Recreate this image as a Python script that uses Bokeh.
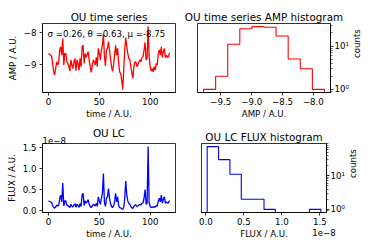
import math
import numpy as np
from bokeh.plotting import figure
from bokeh.layouts import column, row
from bokeh.models import (Range1d, FixedTicker, CustomJSTickFormatter, Label, Title,
                          LinearAxis)
from bokeh.embed import file_html
from bokeh.resources import INLINE

# ---------------- data ----------------
time = list(range(120))
amp = [
    -8.66, -8.69, -8.71, -8.74, -8.97, -9.22, -9.33, -9.13, -8.92, -9.02,
    -8.92, -8.55, -8.45, -8.71, -8.19, -9.02, -8.66, -8.66, -8.92, -8.97,
    -9.07, -9.21, -8.86, -9.03, -9.13, -8.92, -8.81, -9.20, -8.86, -8.97,
    -9.18, -8.81, -9.07, -8.45, -8.40, -8.97, -8.66, -8.78, -8.71, -8.60,
    -8.86, -9.07, -9.25, -9.04, -8.86, -8.92, -9.02, -8.78, -9.07, -8.50,
    -8.66, -8.86, -8.55, -8.40, -8.06, -8.76, -9.05, -8.55, -8.50, -8.29,
    -8.55, -8.81, -9.07, -9.22, -9.01, -8.71, -8.40, -8.71, -8.50, -8.97,
    -9.24, -9.28, -9.49, -9.78, -9.18, -8.55, -8.16, -8.45, -8.66, -8.81,
    -8.86, -9.07, -9.28, -9.44, -9.07, -8.92, -8.92, -9.07, -9.01, -8.92,
    -8.86, -8.92, -8.78, -8.76, -8.55, -8.31, -8.86, -8.81, -7.82, -8.76,
    -9.07, -9.21, -9.13, -9.23, -9.07, -9.18, -8.97, -9.02, -8.66, -8.55,
    -8.71, -8.45, -8.78, -8.60, -8.50, -8.78, -8.71, -8.78, -8.76, -8.64,
]
sigma, theta, mu = 0.26, 0.63, -8.75
n_bins = 10

titles = ["OU time series", "OU time series AMP histogram", "OU LC", "OU LC FLUX histogram"]
time_label = "time / A.U."
amp_label = "AMP / A.U."
flux_label = "FLUX / A.U."
count_label = "counts"
offset_text = "1e\u22128"
amp_ticks = [-9, -8]
time_ticks = [0, 50, 100]
amp_hist_ticks = [-9.5, -9.0, -8.5, -8.0]
flux_ticks = [0.0, 0.5e-8, 1.0e-8, 1.5e-8]
log_ticks = [1, 10, 100]
log_minor = [0.5, 0.6, 0.7, 0.8, 0.9, 2, 3, 4, 5, 6, 7, 8, 9, 20, 30, 40, 50, 60, 70, 80, 90]

RED = "#ff0000"
BLUE = "#0000ff"
FONT = "DejaVu Sans"
TICK_PX = "8.65px"
TITLE_PX = "10.4px"

# ---------------- derived tables ----------------
amp_arr = np.array(amp, dtype=float)
flux = 10.0 ** amp_arr
amp_counts, amp_edges = np.histogram(amp_arr, bins=n_bins)
flux_counts, flux_edges = np.histogram(flux, bins=n_bins)


def pad_range(lo, hi, f=0.05):
    d = (hi - lo) * f
    return Range1d(float(lo - d), float(hi + d))


def log_range(counts):
    pos = counts[counts > 0]
    lo, hi = math.log10(pos.min()), math.log10(pos.max())
    d = (hi - lo) * 0.05
    return Range1d(10 ** (lo - d), 10 ** (hi + d))


def step_xy(edges, counts, floor=1e-3):
    xs, ys = [float(edges[0])], [floor]
    for i, c in enumerate(counts):
        c = float(c) if c > 0 else floor
        xs += [float(edges[i]), float(edges[i + 1])]
        ys += [c, c]
    xs.append(float(edges[-1]))
    ys.append(floor)
    return xs, ys


MINUS_FMT = """
const s = Math.abs(tick).toFixed(%d);
return (tick < 0 ? '\u2212' : '') + s;
"""
SCALED_FMT = "return (tick * 1e8).toFixed(1);"
LOG_FMT = """
const sup = {'0': '\u2070', '1': '\u00b9', '2': '\u00b2'};
const e = Math.round(Math.log10(tick));
return '10' + sup[String(e)];
"""


def style_axis(ax):
    ax.axis_line_color = "black"
    ax.axis_line_width = 0.8
    ax.major_tick_out = 3
    ax.major_tick_in = 0
    ax.minor_tick_out = 2
    ax.minor_tick_in = 0
    ax.major_tick_line_width = 0.8
    ax.minor_tick_line_width = 0.6
    ax.major_tick_line_color = "black"
    ax.minor_tick_line_color = "black"
    ax.major_label_text_font = FONT
    ax.major_label_text_font_size = TICK_PX
    ax.major_label_text_color = "black"
    ax.major_label_standoff = 2
    ax.axis_label_text_font = FONT
    ax.axis_label_text_font_size = TICK_PX
    ax.axis_label_text_font_style = "normal"
    ax.axis_label_text_color = "black"
    ax.axis_label_standoff = 1


def make_fig(w, h, xr, yr, borders, title, y_axis_type="linear", y_loc="left", title_loc="above"):
    left, right, top, bottom = borders
    p = figure(width=w, height=h, x_range=xr, y_range=yr,
               y_axis_type=y_axis_type, y_axis_location=y_loc,
               output_backend="svg", toolbar_location=None,
               min_border_left=left, min_border_right=right,
               min_border_top=top, min_border_bottom=bottom,
               title=title, title_location=title_loc)
    p.grid.visible = False
    p.outline_line_color = "black"
    p.outline_line_width = 0.8
    p.outline_line_alpha = 1.0
    p.background_fill_color = "white"
    p.border_fill_color = "white"
    if title_loc is not None:
        p.title.text_font = FONT
        p.title.text_font_size = TITLE_PX
        p.title.text_font_style = "normal"
        p.title.text_color = "black"
        p.title.align = "center"
        p.title.standoff = 2
    for ax in p.xaxis:
        style_axis(ax)
    for ax in p.yaxis:
        style_axis(ax)
        ax.major_label_standoff = 3
        ax.axis_label_standoff = 3
    return p


# ---------------- panel 1: OU time series ----------------
p1 = make_fig(184, 125, pad_range(time[0], time[-1]), pad_range(amp_arr.min(), amp_arr.max()),
              (42, 9, 23, 33), titles[0])
p1.line(time, amp, line_color=RED, line_width=1.3)
p1.xaxis.ticker = FixedTicker(ticks=time_ticks, minor_ticks=[])
p1.yaxis.ticker = FixedTicker(ticks=amp_ticks, minor_ticks=[])
p1.yaxis.formatter = CustomJSTickFormatter(code=MINUS_FMT % 0)
p1.xaxis.axis_label = time_label
p1.yaxis.axis_label = amp_label
p1.add_layout(Label(x=p1.x_range.start, y=p1.y_range.end, x_offset=5, y_offset=-10,
                    text="\u03c3 =%.2f, \u03b8 =%.2f, \u03bc =%.2f" % (sigma, theta, mu),
                    text_font=FONT, text_font_size=TICK_PX, text_color="black",
                    text_baseline="alphabetic", text_align="left"))

# ---------------- panel 2: AMP histogram ----------------
p2 = make_fig(190, 125, pad_range(amp_edges[0], amp_edges[-1]), log_range(amp_counts),
              (13, 44, 23, 33), titles[1], y_axis_type="log", y_loc="right")
xs, ys = step_xy(amp_edges, amp_counts)
p2.line(xs, ys, line_color=RED, line_width=1.1)
p2.xaxis.ticker = FixedTicker(ticks=amp_hist_ticks, minor_ticks=[])
p2.xaxis.formatter = CustomJSTickFormatter(code=MINUS_FMT % 1)
p2.yaxis.ticker = FixedTicker(ticks=log_ticks, minor_ticks=log_minor)
p2.yaxis.formatter = CustomJSTickFormatter(code=LOG_FMT)
p2.yaxis.major_label_standoff = 1
p2.yaxis.axis_label_standoff = 5
p2.xaxis.axis_label = amp_label
p2.yaxis.axis_label = count_label
p2.yaxis.axis_label_orientation = math.pi / 2

# ---------------- panel 3: OU LC ----------------
p3 = make_fig(184, 124, pad_range(time[0], time[-1]), pad_range(flux.min(), flux.max()),
              (42, 9, 18, 36), titles[2], title_loc=None)
p3.line(time, flux.tolist(), line_color=BLUE, line_width=1.3)
p3.xaxis.ticker = FixedTicker(ticks=time_ticks, minor_ticks=[])
p3.yaxis.ticker = FixedTicker(ticks=flux_ticks, minor_ticks=[])
p3.yaxis.formatter = CustomJSTickFormatter(code=SCALED_FMT)
p3.xaxis.axis_label = time_label
p3.yaxis.axis_label = flux_label
p3.add_layout(Title(text=offset_text, align="left", standoff=0, text_font=FONT,
                    text_font_size=TICK_PX, text_font_style="normal", text_color="black"), "above")
p3.add_layout(Title(text=titles[2], align="center", standoff=-8, text_font=FONT,
                    text_font_size=TITLE_PX, text_font_style="normal", text_color="black"), "above")

# ---------------- panel 4: FLUX histogram ----------------
p4 = make_fig(190, 124, pad_range(flux_edges[0], flux_edges[-1]), log_range(flux_counts),
              (17, 48, 18, 37), titles[3], y_axis_type="log", y_loc="right")
xs, ys = step_xy(flux_edges, flux_counts)
p4.line(xs, ys, line_color=BLUE, line_width=1.1)
p4.xaxis.ticker = FixedTicker(ticks=flux_ticks, minor_ticks=[])
p4.xaxis.formatter = CustomJSTickFormatter(code=SCALED_FMT)
p4.yaxis.ticker = FixedTicker(ticks=log_ticks, minor_ticks=log_minor)
p4.yaxis.formatter = CustomJSTickFormatter(code=LOG_FMT)
p4.yaxis.major_label_standoff = 1
p4.yaxis.axis_label_standoff = 5
p4.xaxis.axis_label = flux_label
p4.yaxis.axis_label = count_label
p4.yaxis.axis_label_orientation = math.pi / 2

# offset text "1e-8" shown as the single label of a bare extra axis under the x axis
x_lo, x_hi = p4.x_range.start, p4.x_range.end
off_tick = x_hi - 0.02 * (x_hi - x_lo)
off_axis = LinearAxis(ticker=FixedTicker(ticks=[off_tick], minor_ticks=[]),
                      formatter=CustomJSTickFormatter(code="return '1e\u22128';"))
style_axis(off_axis)
off_axis.axis_line_color = None
off_axis.major_tick_line_color = None
off_axis.minor_tick_line_color = None
off_axis.major_tick_out = 0
off_axis.minor_tick_out = 0
off_axis.major_label_standoff = -13
p4.add_layout(off_axis, "below")

layout = column(row(p1, p2), row(p3, p4))
with open("out.html", "w", encoding="utf-8") as f:
    f.write(file_html(layout, INLINE))
